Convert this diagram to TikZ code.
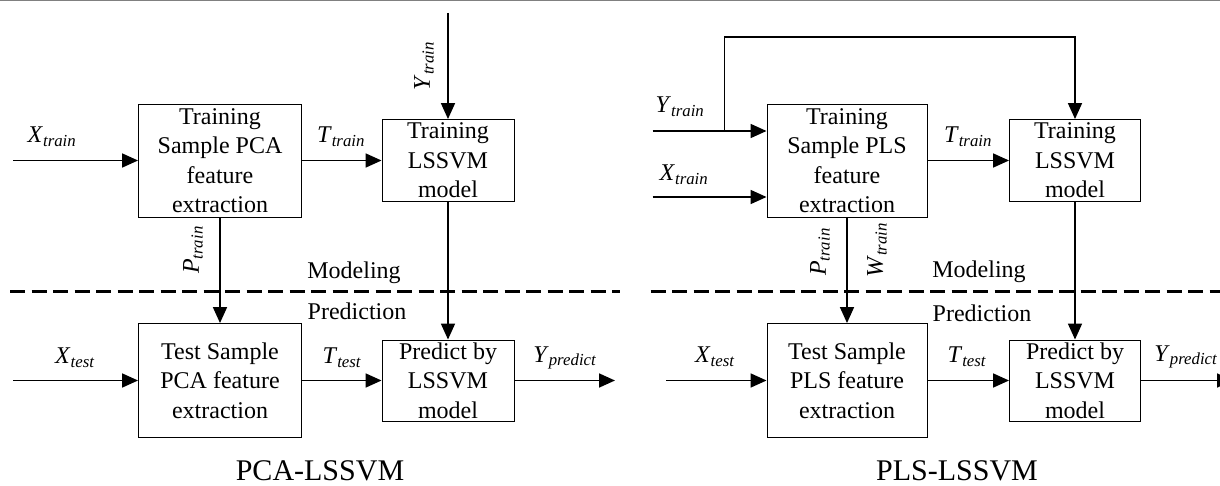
\documentclass[tikz,border=0pt]{standalone}
\usepackage{fontspec}
\setmainfont{Liberation Serif}
\usetikzlibrary{positioning}
\usetikzlibrary{arrows.meta}
\newcommand{\vsub}[2]{\textit{#1}\textsubscript{\textit{#2}}}
\tikzset{block/.style={draw, line width=0.9pt, inner sep=0pt, align=center, font=\fontsize{24}{29.5}\selectfont}}
\tikzset{flow/.style={line width=1.7pt, -{Triangle[length=16pt,width=14pt]}}}
\tikzset{lbl/.style={inner sep=0pt, font=\fontsize{24}{27}\selectfont}}
\tikzset{divide/.style={line width=3pt, dash pattern=on 15pt off 6.5pt}}
\tikzset{caption/.style={anchor=base, font=\fontsize{30}{34}\selectfont}}

\begin{document}
\begin{tikzpicture}[x=1pt, y=-1pt]
\useasboundingbox (0,0) rectangle (1220,486);
\draw[gray, line width=1.5pt] (0,0.75) -- (1220,0.75);

% PCA-LSSVM
\node[block, minimum width=163pt, minimum height=113pt] (pcatr) at (220,160.5) {Training\\Sample PCA\\feature\\extraction};
\node[block, minimum width=132pt, minimum height=82pt] (svtr) at (448,160.5) {Training\\LSSVM\\model};
\node[block, minimum width=163pt, minimum height=114pt] (pcate) at (220,380.5) {Test Sample\\PCA feature\\extraction};
\node[block, minimum width=132pt, minimum height=81pt] (svpr) at (448,380.5) {Predict by\\LSSVM\\model};

\coordinate (xtr) at (13,160.5);
\coordinate (ytr) at (448,13);
\coordinate (xte) at (13,380.5);
\coordinate (ypr) at (615,380.5);

\draw[flow] (xtr) -- (pcatr);
\draw[flow] (ytr) -- (svtr);
\draw[flow] (pcatr) -- (svtr);
\draw[flow] (pcatr) -- (pcate);
\draw[flow] (svtr) -- (svpr);
\draw[flow] (xte) -- (pcate);
\draw[flow] (pcate) -- (svpr);
\draw[flow] (svpr) -- (ypr);

\node[lbl] (lxtr) at (52,137) {\vsub{X}{train}};
\node[lbl] (lttr) at (341,137) {\vsub{T}{train}};
\node[lbl, rotate=90] (lytr) at (424,66) {\vsub{Y}{train}};
\node[lbl, rotate=90] (lptr) at (193,250) {\vsub{P}{train}};
\node[lbl] (lxte) at (75,358) {\vsub{X}{test}};
\node[lbl] (ltte) at (342,358) {\vsub{T}{test}};
\node[lbl] (lypr) at (565,358) {\vsub{Y}{predict}};

\draw[divide] (10,291) -- (620,291);
\node[lbl] (mod) at (354,273) {Modeling};
\node[lbl] (pre) at (357,311) {Prediction};
\node[caption] (cap) at (320,480) {PCA-LSSVM};

% PLS-LSSVM
\node[block, minimum width=160pt, minimum height=113pt] (plstr) at (847,160.5) {Training\\Sample PLS\\feature\\extraction};
\node[block, minimum width=131pt, minimum height=82pt] (svtr2) at (1075,160.5) {Training\\LSSVM\\model};
\node[block, minimum width=160pt, minimum height=114pt] (plste) at (847,380.5) {Test Sample\\PLS feature\\extraction};
\node[block, minimum width=131pt, minimum height=81pt] (svpr2) at (1075,380.5) {Predict by\\LSSVM\\model};

\coordinate (ytr2) at (652.5,131);
\coordinate (fork) at (724.5,131);
\coordinate (ftop) at (724.5,37);
\coordinate (xtr2) at (652.5,197);
\coordinate (xte2) at (666,380.5);
\coordinate (ypr2) at (1233,380.5);

\draw[flow] (ytr2) -- (ytr2 -| plstr.west);
\draw[flow] (fork) -- (ftop) -| (svtr2.north);
\draw[flow] (xtr2) -- (xtr2 -| plstr.west);
\draw[flow] (plstr) -- (svtr2);
\draw[flow] (plstr) -- (plste);
\draw[flow] (svtr2) -- (svpr2);
\draw[flow] (xte2) -- (plste);
\draw[flow] (plste) -- (svpr2);
\draw[flow] (svpr2) -- (ypr2);

\node[lbl] (lytr2) at (680,107) {\vsub{Y}{train}};
\node[lbl] (lxtr2) at (684,175) {\vsub{X}{train}};
\node[lbl] (lttr2) at (968,137) {\vsub{T}{train}};
\node[lbl, rotate=90] (lptr2) at (820,252) {\vsub{P}{train}};
\node[lbl, rotate=90] (lwtr2) at (877,250) {\vsub{W}{train}};
\node[lbl] (lxte2) at (715,357) {\vsub{X}{test}};
\node[lbl] (ltte2) at (967,357) {\vsub{T}{test}};
\node[lbl] (lypr2) at (1186,357) {\vsub{Y}{predict}};

\draw[divide] (650.6,291) -- (1220,291);
\node[lbl] (mod2) at (979,272) {Modeling};
\node[lbl] (pre2) at (982,313) {Prediction};
\node[caption] (cap2) at (957,480) {PLS-LSSVM};
\end{tikzpicture}
\end{document}
